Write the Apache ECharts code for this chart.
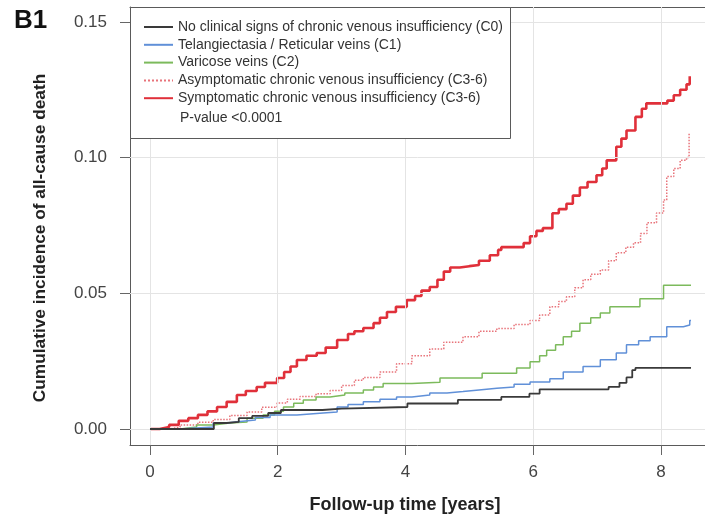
<!DOCTYPE html>
<html>
<head>
<meta charset="utf-8">
<script src="https://cdn.jsdelivr.net/npm/echarts@6/dist/echarts.min.js"></script>
<style>
html,body{margin:0;padding:0;background:#fff;}
#chart{width:705px;height:517px;}
</style>
</head>
<body>
<div id="chart"></div>
<script>
// ---- Data ----
const xTicks = [0, 2, 4, 6, 8];
const yTicks = [0, 0.05, 0.10, 0.15];
const seriesNames = [
  'No clinical signs of chronic venous insufficiency (C0)',
  'Telangiectasia / Reticular veins (C1)',
  'Varicose veins (C2)',
  'Asymptomatic chronic venous insufficiency (C3-6)',
  'Symptomatic chronic venous insufficiency (C3-6)'
];
const pValueText = 'P-value <0.0001';

const c0 = [[0,0],[1.0,0.0022],[1.2,0.0026],[1.39,0.004],[1.6,0.0048],[1.85,0.0059],[2.05,0.007],[2.7,0.0075],[3.0,0.0081],[4.03,0.0094],[4.82,0.0107],[5.5,0.0118],[5.94,0.013],[6.1,0.0146],[7.18,0.0155],[7.35,0.017],[7.46,0.019],[7.55,0.0217],[7.6,0.0225],[8.47,0.0225]];
const c1 = [[0,0],[0.47,0.0007],[0.99,0.0022],[1.2,0.0028],[1.41,0.0033],[1.65,0.0042],[1.88,0.0052],[2.3,0.0059],[2.71,0.0063],[2.93,0.0081],[3.1,0.009],[3.34,0.010],[3.6,0.011],[3.86,0.0118],[4.1,0.0125],[4.38,0.0133],[4.65,0.0138],[4.9,0.0144],[5.15,0.015],[5.43,0.0155],[5.7,0.0165],[5.95,0.0173],[6.26,0.0185],[6.47,0.021],[6.78,0.023],[7.05,0.0255],[7.3,0.028],[7.46,0.031],[7.65,0.0325],[7.83,0.034],[8.09,0.0377],[8.35,0.0383],[8.45,0.040],[8.47,0.040]];
const c2 = [[0,0],[0.47,0.0007],[0.73,0.0015],[0.99,0.0022],[1.25,0.0026],[1.52,0.004],[1.77,0.0052],[1.95,0.0065],[2.09,0.0081],[2.25,0.0095],[2.4,0.0107],[2.6,0.0118],[2.82,0.0125],[3.05,0.0133],[3.34,0.0144],[3.5,0.0155],[3.65,0.0168],[4.1,0.0172],[4.54,0.0188],[5.2,0.0205],[5.74,0.0225],[5.95,0.0248],[6.1,0.027],[6.21,0.029],[6.35,0.031],[6.47,0.034],[6.6,0.036],[6.73,0.039],[6.9,0.041],[7.05,0.0427],[7.2,0.045],[7.67,0.048],[8.04,0.053],[8.47,0.053]];
const c36a = [[0,0],[0.3,0.0007],[0.47,0.0015],[0.75,0.0025],[0.99,0.0035],[1.25,0.005],[1.52,0.0063],[1.75,0.008],[1.99,0.0096],[2.15,0.011],[2.35,0.012],[2.6,0.013],[2.82,0.0142],[3.0,0.016],[3.2,0.018],[3.34,0.019],[3.6,0.021],[3.86,0.024],[4.1,0.027],[4.38,0.0295],[4.6,0.032],[4.9,0.034],[5.15,0.036],[5.43,0.037],[5.7,0.0385],[5.95,0.040],[6.1,0.042],[6.26,0.045],[6.4,0.047],[6.52,0.0487],[6.65,0.052],[6.78,0.055],[6.9,0.057],[7.05,0.0586],[7.18,0.062],[7.3,0.0649],[7.45,0.067],[7.57,0.0686],[7.68,0.072],[7.78,0.076],[7.93,0.0796],[8.04,0.0844],[8.09,0.093],[8.2,0.096],[8.3,0.099],[8.4,0.100],[8.44,0.109]];
const c36s = [[0,0],[0.15,0.0007],[0.3,0.0015],[0.45,0.003],[0.6,0.004],[0.75,0.0052],[0.9,0.0065],[1.05,0.0081],[1.2,0.010],[1.36,0.0125],[1.5,0.014],[1.67,0.0155],[1.8,0.017],[1.99,0.0188],[2.1,0.021],[2.2,0.023],[2.3,0.0254],[2.45,0.027],[2.61,0.028],[2.75,0.030],[2.93,0.0328],[3.1,0.035],[3.2,0.036],[3.34,0.0372],[3.5,0.039],[3.6,0.041],[3.71,0.0431],[3.85,0.045],[4.02,0.0475],[4.15,0.049],[4.25,0.051],[4.38,0.0523],[4.5,0.055],[4.6,0.058],[4.7,0.0595],[4.85,0.060],[5.0,0.0604],[5.15,0.062],[5.32,0.064],[5.45,0.066],[5.5,0.067],[5.85,0.0685],[5.95,0.071],[6.05,0.073],[6.15,0.074],[6.3,0.0795],[6.4,0.081],[6.52,0.083],[6.62,0.086],[6.73,0.089],[6.85,0.091],[6.99,0.0935],[7.08,0.096],[7.15,0.099],[7.3,0.104],[7.38,0.107],[7.46,0.110],[7.6,0.115],[7.7,0.118],[7.77,0.120],[8.1,0.121],[8.2,0.123],[8.3,0.125],[8.4,0.127],[8.45,0.130]];

// axis ranges of the full plot box (data region incl. padding; right side runs off the picture)
const boxXMin = -0.313, boxXMax = 8.689;
const boxYMin = -0.0059, boxYMax = 0.1555;

const FONT = "'Liberation Sans', Arial, sans-serif";
const FRAME = '#5a5a5a';

const chart = echarts.init(document.getElementById('chart'), null, {renderer: 'canvas'});

function lineSeries(name, data, color, width, type, z) {
  return {
    name: name, type: 'line',
    data: data, step: 'end', symbol: 'none', showSymbol: false,
    lineStyle: {color: color, width: width, type: type},
    itemStyle: {color: color},
    z: z, silent: true
  };
}

const option = {
  animation: false,
  backgroundColor: '#ffffff',
  grid: {left: 130, top: 7, width: 575, height: 438, show: false},
  xAxis: [
    {
      type: 'value', min: boxXMin, max: boxXMax, position: 'bottom',
      axisLine: {show: true, onZero: false, lineStyle: {color: FRAME, width: 1}},
      axisTick: {show: true, inside: false, length: 10, customValues: xTicks, lineStyle: {color: '#666', width: 1}},
      axisLabel: {show: true, customValues: xTicks, fontSize: 17, color: '#444', fontFamily: FONT, margin: 19,
                  formatter: v => String(v)},
      splitLine: {show: false}
    },
    {
      type: 'value', min: boxXMin, max: boxXMax, position: 'top',
      axisLine: {show: true, onZero: false, lineStyle: {color: FRAME, width: 1}},
      axisTick: {show: false}, axisLabel: {show: false}, splitLine: {show: false}
    }
  ],
  yAxis: {
    type: 'value', min: boxYMin, max: boxYMax, position: 'left',
    axisLine: {show: true, onZero: false, lineStyle: {color: FRAME, width: 1}},
    axisTick: {show: true, inside: false, length: 10, customValues: yTicks, lineStyle: {color: '#666', width: 1}},
    axisLabel: {show: true, customValues: yTicks, fontSize: 17, color: '#444', fontFamily: FONT, margin: 23,
                formatter: v => Number(v).toFixed(2)},
    splitLine: {show: false}
  },
  legend: {
    orient: 'vertical', left: 143, top: 20, padding: 0,
    itemWidth: 29, itemHeight: 14, itemGap: 3.8,
    data: seriesNames,
    itemStyle: {opacity: 0},
    textStyle: {fontSize: 14, color: '#333', fontFamily: FONT, lineHeight: 14},
    selectedMode: false, z: 20
  },
  graphic: [
    {type: 'rect', z: 10, shape: {x: 130.5, y: 7.5, width: 380, height: 131},
     style: {fill: '#ffffff', stroke: FRAME, lineWidth: 1}},
    {type: 'text', z: 20, x: 180, y: 118,
     style: {text: pValueText, fontSize: 14, fill: '#333', fontFamily: FONT, verticalAlign: 'middle'}},
    {type: 'text', z: 20, x: 14, y: 21,
     style: {text: 'B1', fontSize: 26, fontWeight: 'bold', fill: '#111', fontFamily: FONT, verticalAlign: 'middle'}},
    {type: 'text', z: 20, x: 40, y: 238, rotation: Math.PI / 2,
     style: {text: 'Cumulative incidence of all-cause death', fontSize: 17.3, fontWeight: 'bold', fill: '#222',
             fontFamily: FONT, align: 'center', verticalAlign: 'middle'}},
    {type: 'text', z: 20, x: 405, y: 505,
     style: {text: 'Follow-up time [years]', fontSize: 18, fontWeight: 'bold', fill: '#222',
             fontFamily: FONT, align: 'center', verticalAlign: 'middle'}}
  ],
  series: [
    {
      name: '__grid', type: 'line', data: [], silent: true, z: 1,
      markLine: {
        silent: true, symbol: ['none', 'none'], animation: false,
        label: {show: false},
        lineStyle: {color: '#e4e4e4', width: 1, type: 'solid'},
        emphasis: {disabled: true},
        data: xTicks.map(v => ({xAxis: v})).concat(yTicks.map(v => ({yAxis: v})))
      }
    },
    lineSeries(seriesNames[0], c0, '#3a3a3a', 1.8, 'solid', 7),
    lineSeries(seriesNames[1], c1, '#6090d8', 1.5, 'solid', 6),
    lineSeries(seriesNames[2], c2, '#7cba5c', 1.5, 'solid', 5),
    lineSeries(seriesNames[3], c36a, '#e8737a', 1.5, 'dotted', 4),
    lineSeries(seriesNames[4], c36s, '#e0303a', 2.6, 'solid', 3)
  ]
};
chart.setOption(option);
</script>
</body>
</html>
